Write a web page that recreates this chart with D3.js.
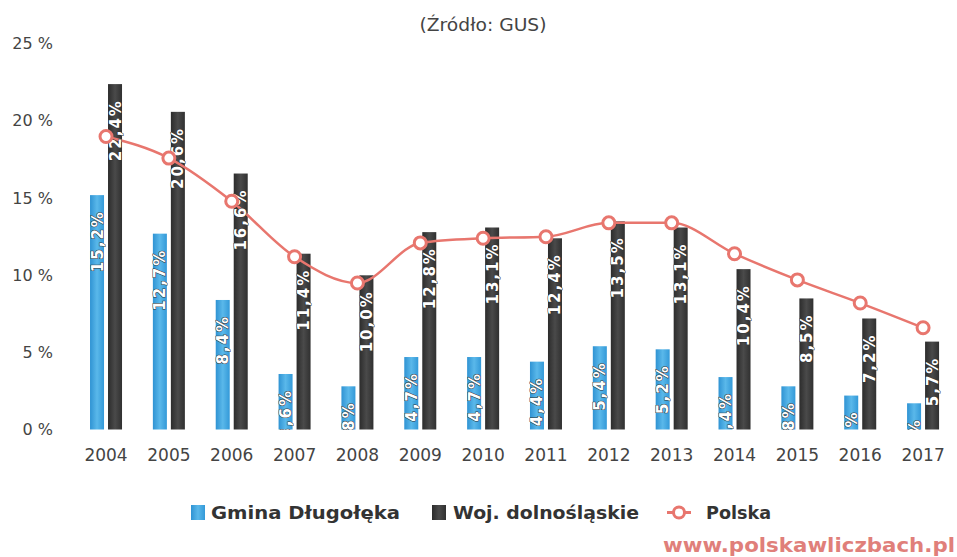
<!DOCTYPE html>
<html>
<head>
<meta charset="utf-8">
<script src="https://cdn.jsdelivr.net/npm/d3@7"></script>
<style>
  body { margin: 0; background: #fff; }
  svg { display: block; }
</style>
</head>
<body>
<svg id="chart" width="957" height="557"></svg>
<script>
const years = ["2004","2005","2006","2007","2008","2009","2010","2011","2012","2013","2014","2015","2016","2017"];
const gmina = [15.2, 12.7, 8.4, 3.6, 2.8, 4.7, 4.7, 4.4, 5.4, 5.2, 3.4, 2.8, 2.2, 1.7];
const woj = [22.4, 20.6, 16.6, 11.4, 10.0, 12.8, 13.1, 12.4, 13.5, 13.1, 10.4, 8.5, 7.2, 5.7];
const polska = [19.0, 17.6, 14.8, 11.2, 9.5, 12.1, 12.4, 12.5, 13.4, 13.4, 11.4, 9.7, 8.2, 6.6];
const yTicks = [0, 5, 10, 15, 20, 25];
const seriesNames = ["Gmina Długołęka", "Woj. dolnośląskie", "Polska"];

const svg = d3.select("#chart");
const defs = svg.append("defs");
const gBlue = defs.append("linearGradient").attr("id","gblue").attr("x1","0").attr("x2","1").attr("y1","0").attr("y2","0");
gBlue.append("stop").attr("offset","0").attr("stop-color","#2f93d3");
gBlue.append("stop").attr("offset","0.5").attr("stop-color","#5ab8ea");
gBlue.append("stop").attr("offset","1").attr("stop-color","#3399d8");
const gDark = defs.append("linearGradient").attr("id","gdark").attr("x1","0").attr("x2","1").attr("y1","0").attr("y2","0");
gDark.append("stop").attr("offset","0").attr("stop-color","#2c2c2c");
gDark.append("stop").attr("offset","0.5").attr("stop-color","#4a4a4a");
gDark.append("stop").attr("offset","1").attr("stop-color","#303030");
defs.append("clipPath").attr("id","plotclip").append("rect")
  .attr("x", 60).attr("y", 30).attr("width", 897).attr("height", 400);

const x = d3.scaleBand().domain(years).range([74.6, 954.5]).paddingInner(0).paddingOuter(0);
const x1 = d3.scaleBand().domain(["g","w"]).range([-16, 16]).paddingInner(0.222);
const y = d3.scaleLinear().domain([0, 25]).range([429.5, 44]);
const cx = d => x(d) + x.bandwidth() / 2;

// title
svg.append("text").attr("x", 483).attr("y", 31).attr("text-anchor","middle")
  .attr("font-family","DejaVu Sans").attr("font-size", 17).attr("fill","#444")
  .attr("textLength", 127).attr("lengthAdjust","spacingAndGlyphs")
  .text("(Źródło: GUS)");

// y axis labels
const yAxis = d3.axisLeft(y).tickValues(yTicks).tickSize(0).tickPadding(0).tickFormat(d => d + " %");
const ya = svg.append("g").attr("transform","translate(53,0)").call(yAxis);
ya.select(".domain").remove();
ya.selectAll("text").attr("font-family","DejaVu Sans").attr("font-size", 16).attr("fill","#444").attr("dy","0.3em");

// x axis labels
const xAxis = d3.axisBottom(x).tickSize(0).tickPadding(0);
const xa = svg.append("g").attr("transform","translate(0,449)").call(xAxis);
xa.select(".domain").remove();
xa.selectAll("text").attr("font-family","DejaVu Sans").attr("font-size", 17).attr("fill","#444").attr("dy","0.72em");

// bars
const data = years.map((yr, i) => ({yr, g: gmina[i], w: woj[i], p: polska[i]}));
const groups = svg.append("g").selectAll("g").data(data).join("g")
  .attr("transform", d => `translate(${cx(d.yr)},0)`);

[["g","url(#gblue)"],["w","url(#gdark)"]].forEach(([k, fill]) => {
  groups.append("rect")
    .attr("x", x1(k)).attr("width", x1.bandwidth())
    .attr("y", d => y(d[k])).attr("height", d => y(0) - y(d[k]))
    .attr("fill", fill);
});

// line
const line = d3.line().x(d => cx(d.yr)).y(d => y(d.p)).curve(d3.curveMonotoneX);
svg.append("path").datum(data).attr("d", line)
  .attr("fill","none").attr("stroke","#e8766e").attr("stroke-width", 2.5);

// bar labels (clipped to the plot area)
const labelLayer = svg.append("g").attr("clip-path","url(#plotclip)");
const lgroups = labelLayer.selectAll("g").data(data).join("g")
  .attr("transform", d => `translate(${cx(d.yr)},0)`);
["g","w"].forEach(k => {
  lgroups.append("text")
    .attr("transform", d => `translate(${x1(k) + x1.bandwidth()/2 + 5.5},${y(d[k]) + 15}) rotate(-90)`)
    .attr("text-anchor","end")
    .attr("font-family","DejaVu Sans").attr("font-weight","bold").attr("font-size", 15)
    .attr("letter-spacing", "2px")
    .attr("fill","#fff").attr("stroke","#333").attr("stroke-width", 1).attr("paint-order","stroke")
    .attr("stroke-linejoin","round")
    .text(d => d3.format(".1f")(d[k]).replace(".", ",") + "%");
});

// markers
svg.append("g").selectAll("circle").data(data).join("circle")
  .attr("cx", d => cx(d.yr)).attr("cy", d => y(d.p)).attr("r", 6)
  .attr("fill","#fff").attr("stroke","#e8766e").attr("stroke-width", 3);

// legend
const lg = svg.append("g").attr("font-family","DejaVu Sans").attr("font-weight","bold").attr("font-size", 17).attr("fill","#333");
lg.append("rect").attr("x",191).attr("y",505).attr("width",14).attr("height",15).attr("fill","url(#gblue)");
lg.append("text").attr("x",211).attr("y",519).attr("textLength",189).attr("lengthAdjust","spacingAndGlyphs").text(seriesNames[0]);
lg.append("rect").attr("x",432).attr("y",505).attr("width",14).attr("height",15).attr("fill","url(#gdark)");
lg.append("text").attr("x",453).attr("y",519).attr("textLength",186).attr("lengthAdjust","spacingAndGlyphs").text(seriesNames[1]);
lg.append("line").attr("x1",667).attr("x2",691).attr("y1",512.5).attr("y2",512.5).attr("stroke","#e8766e").attr("stroke-width",3);
lg.append("circle").attr("cx",679).attr("cy",512.5).attr("r",5.5).attr("fill","#fff").attr("stroke","#e8766e").attr("stroke-width",3);
lg.append("text").attr("x",706).attr("y",519).attr("textLength",65).attr("lengthAdjust","spacingAndGlyphs").text(seriesNames[2]);

// watermark
svg.append("text").attr("x", 663).attr("y", 552)
  .attr("font-family","DejaVu Sans").attr("font-weight","bold").attr("font-size", 20)
  .attr("fill","#e07f7a").attr("textLength", 292).attr("lengthAdjust","spacingAndGlyphs")
  .text("www.polskawliczbach.pl");
</script>
</body>
</html>
